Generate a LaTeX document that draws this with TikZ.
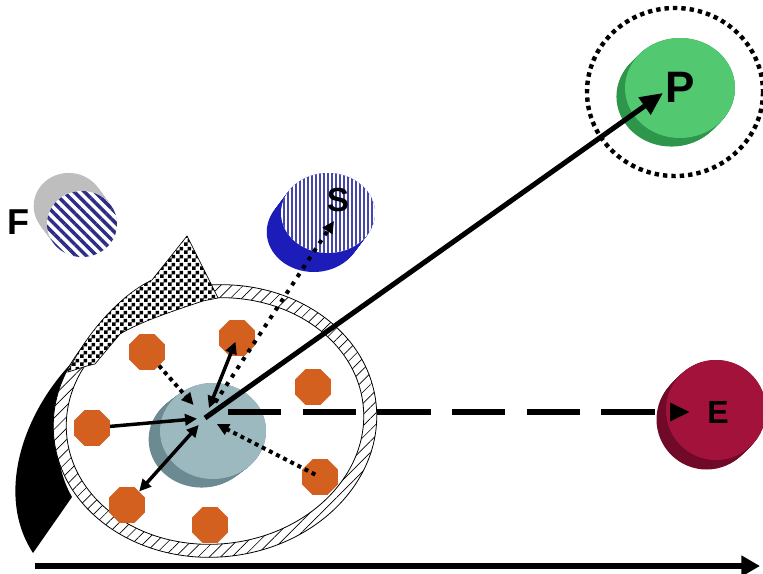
\documentclass[tikz,border=0pt]{standalone}
\usepackage{fontspec}
\newfontfamily\letterfont{Liberation Sans}
\usetikzlibrary{arrows.meta,shapes.geometric,patterns,patterns.meta}

% small checkerboard used on the curved arrow
\pgfdeclarepatternformonly{checks}{\pgfqpoint{0pt}{0pt}}{\pgfqpoint{6pt}{6pt}}{\pgfqpoint{6pt}{6pt}}{%
  \pgfpathrectangle{\pgfqpoint{0pt}{0pt}}{\pgfqpoint{3pt}{3pt}}%
  \pgfpathrectangle{\pgfqpoint{3pt}{3pt}}{\pgfqpoint{3pt}{3pt}}%
  \pgfusepath{fill}}

\definecolor{octorange}{RGB}{211,96,31}
\definecolor{coreface}{RGB}{157,185,192}
\definecolor{coreside}{RGB}{108,138,146}
\definecolor{pface}{RGB}{82,200,112}
\definecolor{pside}{RGB}{45,150,75}
\definecolor{eface}{RGB}{163,18,58}
\definecolor{eside}{RGB}{112,10,40}
\definecolor{sside}{RGB}{28,28,185}
\definecolor{sstripe}{RGB}{70,70,170}
\definecolor{fstripe}{RGB}{45,45,135}
\definecolor{fside}{RGB}{190,190,190}

% side of a puck: stacked ellipses from the face back along the offset
% #1,#2 face centre  #3,#4 radii  #5,#6 offset  #7 colour
\newcommand\puckside[7]{%
  \foreach \k in {0,0.05,...,1.0}{%
    \fill[#7] ({#1+\k*(#5)},{#2+\k*(#6)}) ellipse [x radius=#3, y radius=#4];}}

\begin{document}
\begin{tikzpicture}[x=0.75pt,y=-0.75pt,
  oct/.style={regular polygon, regular polygon sides=8, minimum size=29pt,
    inner sep=0pt, fill=octorange, draw=none},
  lettr/.style={inner sep=0pt, text=black, font=\letterfont\bfseries},
  solidarr/.style={line width=2.6pt, -{Triangle[length=9pt,width=8.5pt]}},
  twoway/.style={line width=2.6pt, {Triangle[length=9pt,width=8.5pt]}-{Triangle[length=9pt,width=8.5pt]}},
  dotarr/.style={line width=3pt, dash pattern=on 3pt off 3pt, -{Triangle[length=9pt,width=8.5pt]}},
  dotarrwide/.style={line width=3pt, dash pattern=on 3pt off 4.5pt, -{Triangle[length=9pt,width=8.5pt]}},
  bigarr/.style={line width=3.8pt, -{Triangle[length=17pt,width=15pt]}},
  dasharr/.style={line width=4.5pt, dash pattern=on 40pt off 16pt, -{Triangle[length=15pt,width=13pt]}},
  axisarr/.style={line width=4.5pt, -{Triangle[length=14pt,width=15pt]}}
]
\useasboundingbox (0,0) rectangle (763,574);
\fill[white] (0,0) rectangle (763,574);

% black underside of the curved arrow
\fill[black] (33,553) .. controls (-8,490) and (28,400) .. (85,350)
  -- (90,356) .. controls (60,390) and (45,450) .. (72,497) -- cycle;

% hatched ring
\begin{scope}[rotate around={6:(215,421)}]
  \path[fill=white, draw=black, line width=0.6pt,
    postaction={pattern={Lines[angle=45,distance=6pt,line width=0.5pt]}}]
    (215,421) ellipse [x radius=162, y radius=136];
  \path[fill=white, draw=black, line width=0.6pt]
    (215,421) ellipse [x radius=149, y radius=123];
\end{scope}

% checkered top of the curved arrow
\path[fill=white, draw=black, line width=0.5pt, postaction={pattern=checks}]
  (68,372) .. controls (85,335) and (120,295) .. (152,280) -- (187,236)
  -- (218,298) -- (203,301) .. controls (170,312) and (140,322) .. (120,334)
  -- (95,364) .. controls (85,366) and (75,370) .. (68,372) -- cycle;

% puck F
\puckside{82}{224}{35}{33}{-14}{-19}{fside}
\path[fill=white, postaction={pattern={Lines[angle=-45,distance=5.5pt,line width=2.6pt]}, pattern color=fstripe}]
  (82,224) ellipse [x radius=35, y radius=33];

% puck S
\puckside{328}{213}{47}{40}{-15}{20}{sside}
\path[fill=white, postaction={pattern={Lines[angle=90,distance=3pt,line width=1.6pt]}, pattern color=sstripe}]
  (328,213) ellipse [x radius=47, y radius=40];

% octagons
\node[oct] (o1) at (147,352) {};
\node[oct] (o2) at (237,338) {};
\node[oct] (o3) at (313,387) {};
\node[oct] (o4) at (92,428) {};
\node[oct] (o5) at (320,477) {};
\node[oct] (o6) at (127,505) {};
\node[oct] (o7) at (210,525) {};

% central puck
\puckside{213}{431}{53}{48}{-12}{9}{coreside}
\fill[coreface] (213,431) ellipse [x radius=53, y radius=48];

% puck P with its dotted halo
\draw[line width=3.3pt, dash pattern=on 3.3pt off 3pt] (675,92) ellipse [x radius=88, y radius=84];
\puckside{680}{88}{55}{50}{-9}{9}{pside}
\fill[pface] (680,88) ellipse [x radius=55, y radius=50];

% puck E
\puckside{716}{410}{50}{50}{-10}{10}{eside}
\fill[eface] (716,410) ellipse [x radius=50, y radius=50];

% connector end points
\coordinate (C) at (205,418);
\coordinate (pTip) at (663,93);
\coordinate (sTip) at (334,221);
\coordinate (eStart) at (228,412);
\coordinate (eTip) at (690,412);
\coordinate (axL) at (35,566);
\coordinate (axR) at (760,566);

% connectors
\draw[dotarr, shorten >=13pt] (o1) -- (C);
\draw[twoway, shorten <=8pt, shorten >=3pt] (C) -- (o2.center);
\draw[solidarr, shorten >=6pt] (o4) -- (C);
\draw[twoway, shorten <=7pt] (C) -- (o6);
\draw[dotarr, shorten <=4pt, shorten >=10pt] (o5.center) -- (C);
\draw[dotarrwide, shorten <=14pt] (C) -- (sTip);
\draw[bigarr] (C) -- (pTip);
\draw[dasharr] (eStart) -- (eTip);
\draw[axisarr] (axL) -- (axR);

% letters
\node[lettr, font=\letterfont\bfseries\fontsize{33}{33}\selectfont] (P) at (680,87) {P};
\node[lettr, font=\letterfont\bfseries\fontsize{24}{24}\selectfont] (E) at (718,412) {E};
\node[lettr, font=\letterfont\bfseries\fontsize{25}{25}\selectfont] (S) at (338,200) {S};
\node[lettr, font=\letterfont\bfseries\fontsize{27}{27}\selectfont] (F) at (18,222) {F};
\end{tikzpicture}
\end{document}
